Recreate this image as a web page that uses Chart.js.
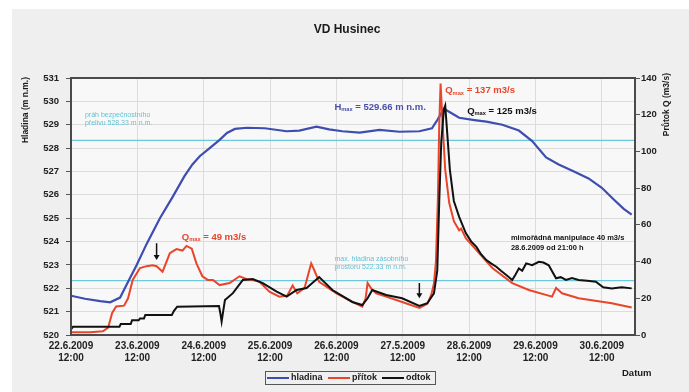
<!DOCTYPE html>
<html>
<head>
<meta charset="utf-8">
<script src="https://cdn.jsdelivr.net/npm/chart.js@4.4.0/dist/chart.umd.min.js"></script>
<style>
  html, body { margin: 0; padding: 0; background: #fff; }
  #wrap { width: 689px; height: 392px; }
</style>
</head>
<body>
<div id="wrap"><canvas id="ChartForHusinec" width="689" height="392"></canvas></div>
<script>
// x axis = days since 22.6.2009 12:00
var tickLabels = [
    ['22.6.2009', '12:00'], ['23.6.2009', '12:00'], ['24.6.2009', '12:00'],
    ['25.6.2009', '12:00'], ['26.6.2009', '12:00'], ['27.5.2009', '12:00'],
    ['28.6.2009', '12:00'], ['29.6.2009', '12:00'], ['30.6.2009', '12:00']
];

// hladina (m n.m.)
var hladinaTime = [0, 0.21, 0.44, 0.59, 0.74, 0.87, 0.99, 1.14, 1.34, 1.53, 1.59, 1.71, 1.83, 1.94, 2.09, 2.24, 2.35, 2.47, 2.65, 2.92,
    3.25, 3.44, 3.70, 3.89, 4.09, 4.35, 4.65, 4.95, 5.25, 5.44, 5.52, 5.62, 5.73, 5.85, 6.08, 6.26, 6.50, 6.75, 6.95, 7.16,
    7.35, 7.58, 7.80, 8.00, 8.18, 8.33, 8.45];
var hladinaValue = [521.68, 521.55, 521.45, 521.4, 521.6, 522.33, 523.0, 523.9, 525.0, 525.9, 526.2, 526.8, 527.3, 527.65, 528.0, 528.35, 528.65, 528.82, 528.87, 528.85,
    528.72, 528.75, 528.92, 528.8, 528.72, 528.66, 528.78, 528.7, 528.72, 528.85, 529.2, 529.68, 529.5, 529.3, 529.2, 529.13, 529.0, 528.75, 528.3, 527.6,
    527.3, 527.0, 526.7, 526.3, 525.8, 525.4, 525.15];

// pritok (m3/s)
var pritokTime = [0, 0.29, 0.48, 0.56, 0.62, 0.68, 0.80, 0.86, 0.93, 1.04, 1.14, 1.23, 1.29, 1.38, 1.44, 1.49, 1.59, 1.68, 1.74, 1.82,
    1.89, 1.98, 2.06, 2.14, 2.24, 2.39, 2.54, 2.65, 2.74, 2.84, 2.99, 3.14, 3.26, 3.34, 3.41, 3.52, 3.59, 3.62, 3.67, 3.74,
    4.00, 4.24, 4.39, 4.44, 4.47, 4.53, 4.60, 4.75, 4.99, 5.25, 5.37, 5.43, 5.47, 5.50, 5.53, 5.55, 5.57, 5.60, 5.64, 5.70,
    5.77, 5.85, 5.88, 5.95, 6.15, 6.35, 6.65, 6.90, 7.25, 7.31, 7.40, 7.65, 8.15, 8.45];
var pritokValue = [1.5, 1.5, 2, 4, 12, 15.5, 16, 20, 30, 36.5, 37.5, 38, 37.5, 34.5, 40, 44.6, 46.8, 46, 48.5, 47,
    39, 32, 30, 30, 27.2, 28.3, 32, 30.4, 30, 29, 23.6, 20.9, 21.5, 27, 22.7, 25.6, 35, 39, 35, 29,
    22.7, 18, 15.4, 20, 28.3, 25, 22.7, 20.9, 18, 14.7, 17, 22, 28, 40, 75, 115, 137, 115, 90, 72,
    62, 57, 58, 52.8, 44.6, 36.5, 28.3, 24.5, 20.9, 25.6, 22.7, 20, 17.3, 15];

// odtok (m3/s)
var odtokTime = [0, 0.03, 0.73, 0.75, 0.90, 0.92, 1.02, 1.04, 1.10, 1.12, 1.52, 1.55, 1.60, 2.23, 2.25, 2.27, 2.29, 2.32, 2.44, 2.59,
    2.74, 2.89, 3.10, 3.25, 3.40, 3.55, 3.74, 3.94, 4.24, 4.39, 4.47, 4.54, 4.75, 4.99, 5.25, 5.37, 5.47, 5.52, 5.55, 5.58,
    5.62, 5.64, 5.67, 5.71, 5.77, 5.85, 5.95, 6.03, 6.11, 6.18, 6.26, 6.33, 6.41, 6.48, 6.56, 6.65, 6.70, 6.75, 6.80, 6.86,
    6.95, 7.05, 7.12, 7.20, 7.31, 7.38, 7.46, 7.55, 7.65, 7.78, 7.91, 8.02, 8.15, 8.30, 8.45];
var odtokValue = [3, 4.5, 4.5, 6, 6, 8, 8, 9, 9, 10.9, 10.9, 13, 15.4, 15.8, 12, 7.3, 12, 19, 22.8, 30,
    30.5, 28.3, 23.6, 20.9, 24.5, 25.6, 31.6, 24.5, 18, 16.3, 20, 24.5, 21.8, 20, 15.8, 17.3, 22.7, 35, 73, 105,
    123, 125, 110, 90, 73, 64.4, 55.5, 51, 48, 44, 40.8, 39, 37.2, 35, 32.7, 30, 33, 36.3, 35, 39,
    38, 39.9, 39.5, 38, 30.9, 31.5, 30, 31, 30, 29.5, 29, 26, 25.4, 26, 25.4];

// prah bezpecnostniho prelivu, max. hladina zasobniho prostoru
var thresholdValues = [528.33, 522.33];

function zip(t, v) {
    return t.map(function (x, i) { return { x: x, y: v[i] }; });
}

var font = 'Liberation Sans, Arial, sans-serif';

function txt(ctx, s, x, y, size, color, bold, align) {
    ctx.font = (bold ? 'bold ' : '') + size + 'px ' + font;
    ctx.fillStyle = color;
    ctx.textAlign = align || 'left';
    ctx.textBaseline = 'middle';
    ctx.fillText(s, x, y);
}

// "Q" + subscript "max" + rest
function maxLabel(ctx, letter, rest, x, y, size, color) {
    ctx.font = 'bold ' + size + 'px ' + font;
    ctx.fillStyle = color;
    ctx.textAlign = 'left';
    ctx.textBaseline = 'middle';
    ctx.fillText(letter, x, y);
    var w = ctx.measureText(letter).width;
    ctx.font = 'bold ' + (size * 0.6) + 'px ' + font;
    ctx.fillText('max', x + w, y + 2.5);
    var w2 = ctx.measureText('max').width;
    ctx.font = 'bold ' + size + 'px ' + font;
    ctx.fillText(rest, x + w + w2, y);
}

function arrow(ctx, x, y1, y2) {
    ctx.strokeStyle = '#111';
    ctx.fillStyle = '#111';
    ctx.lineWidth = 1.5;
    ctx.beginPath();
    ctx.moveTo(x, y1);
    ctx.lineTo(x, y2 - 4);
    ctx.stroke();
    ctx.beginPath();
    ctx.moveTo(x - 3, y2 - 5);
    ctx.lineTo(x + 3, y2 - 5);
    ctx.lineTo(x, y2);
    ctx.closePath();
    ctx.fill();
}

var decorPlugin = {
    id: 'decor',
    beforeDraw: function (chart) {
        var ctx = chart.ctx, a = chart.chartArea;
        ctx.save();
        ctx.fillStyle = '#ffffff';
        ctx.fillRect(0, 0, chart.width, chart.height);
        ctx.fillStyle = '#efefef';
        ctx.fillRect(12, 9, chart.width - 12, chart.height - 9);
        ctx.fillStyle = '#f8f8f8';
        ctx.fillRect(a.left, a.top, a.right - a.left, a.bottom - a.top);
        ctx.restore();
    },
    afterDraw: function (chart) {
        var ctx = chart.ctx, a = chart.chartArea;
        var sx = chart.scales.x, sy = chart.scales.y, sq = chart.scales.q;
        ctx.save();

        // frame
        ctx.strokeStyle = '#4a4a4a';
        ctx.lineWidth = 2;
        ctx.strokeRect(a.left, a.top, a.right - a.left, a.bottom - a.top);

        // title
        txt(ctx, 'VD Husinec', 347, 30, 12, '#1a1a1a', true, 'center');

        // axis titles
        ctx.save();
        ctx.translate(26, 77);
        ctx.rotate(-Math.PI / 2);
        txt(ctx, 'Hladina (m n.m.)', 0, 0, 8.5, '#1a1a1a', true, 'right');
        ctx.restore();
        ctx.save();
        ctx.translate(667, 73);
        ctx.rotate(-Math.PI / 2);
        txt(ctx, 'Průtok Q (m3/s)', 0, 0, 8.5, '#1a1a1a', true, 'right');
        ctx.restore();

        txt(ctx, 'Datum', 622, 373, 9.5, '#1a1a1a', true, 'left');

        // legend
        ctx.strokeStyle = '#555';
        ctx.lineWidth = 1;
        ctx.strokeRect(265.5, 371.5, 170, 13);
        var items = [['hladina', '#3d4eb0', 267], ['přítok', '#e8452a', 328], ['odtok', '#111111', 382]];
        items.forEach(function (it) {
            ctx.strokeStyle = it[1];
            ctx.lineWidth = 2;
            ctx.beginPath();
            ctx.moveTo(it[2], 378);
            ctx.lineTo(it[2] + 22, 378);
            ctx.stroke();
            txt(ctx, it[0], it[2] + 24, 378, 9, '#1a1a1a', true, 'left');
        });

        // threshold texts
        var cy = '#5ec3d6';
        txt(ctx, 'práh bezpečnostního', sx.getPixelForValue(0.21), sy.getPixelForValue(529.42), 7, cy, false);
        txt(ctx, 'přelivu 528.33 m n.m.', sx.getPixelForValue(0.21), sy.getPixelForValue(529.08), 7, cy, false);
        txt(ctx, 'max. hladina zásobního', sx.getPixelForValue(3.97), sy.getPixelForValue(523.25), 7, cy, false);
        txt(ctx, 'prostoru 522.33 m n.m.', sx.getPixelForValue(3.97), sy.getPixelForValue(522.9), 7, cy, false);

        // max labels
        maxLabel(ctx, 'H', ' = 529.66 m n.m.', sx.getPixelForValue(3.97), sy.getPixelForValue(529.76), 9.5, '#4b4fa8');
        maxLabel(ctx, 'Q', ' = 137 m3/s', sx.getPixelForValue(5.64), sq.getPixelForValue(133), 9.5, '#e8452a');
        maxLabel(ctx, 'Q', ' = 125 m3/s', sx.getPixelForValue(5.97), sq.getPixelForValue(122), 9.5, '#111');
        maxLabel(ctx, 'Q', ' = 49 m3/s', sx.getPixelForValue(1.67), sq.getPixelForValue(53.4), 9.5, '#e8452a');

        txt(ctx, 'mimořádná manipulace 40 m3/s', sx.getPixelForValue(6.63), sq.getPixelForValue(52.8), 7.5, '#111', true);
        txt(ctx, '28.6.2009 od 21:00 h', sx.getPixelForValue(6.63), sq.getPixelForValue(47.4), 7.5, '#111', true);

        arrow(ctx, sx.getPixelForValue(1.29), sq.getPixelForValue(50), sq.getPixelForValue(40.8));
        arrow(ctx, sx.getPixelForValue(5.25), sq.getPixelForValue(28.3), sq.getPixelForValue(20));

        ctx.restore();
    }
};

var tickFont = { family: font, size: 9.5, weight: 'bold' };
var xTickFont = { family: font, size: 10, weight: 'bold' };

var ctx = document.getElementById('ChartForHusinec').getContext('2d');
var ChartForHusinec = new Chart(ctx, {
    type: 'line',
    data: {
        datasets: [
            {
                label: 'odtok', data: zip(odtokTime, odtokValue), yAxisID: 'q',
                borderColor: '#111111', borderWidth: 2, order: 1
            },
            {
                label: 'přítok', data: zip(pritokTime, pritokValue), yAxisID: 'q',
                borderColor: '#e8452a', borderWidth: 2, order: 2
            },
            {
                label: 'hladina', data: zip(hladinaTime, hladinaValue), yAxisID: 'y',
                borderColor: '#3d4eb0', borderWidth: 2.2, order: 3
            },
            {
                label: 'prah', data: [{ x: 0, y: thresholdValues[0] }, { x: 8.5, y: thresholdValues[0] }], yAxisID: 'y',
                borderColor: '#6cc8da', borderWidth: 1.2, order: 4
            },
            {
                label: 'zasobni', data: [{ x: 0, y: thresholdValues[1] }, { x: 8.5, y: thresholdValues[1] }], yAxisID: 'y',
                borderColor: '#6cc8da', borderWidth: 1.2, order: 4
            }
        ]
    },
    options: {
        responsive: false,
        animation: false,
        layout: { padding: { top: 78, left: 0, right: 0, bottom: 0 } },
        elements: { point: { radius: 0 }, line: { tension: 0, fill: false } },
        plugins: {
            legend: { display: false },
            title: { display: false },
            tooltip: { enabled: false }
        },
        scales: {
            x: {
                type: 'linear',
                min: 0,
                max: 8.5,
                afterBuildTicks: function (s) {
                    s.ticks = tickLabels.map(function (l, i) { return { value: i }; });
                },
                afterFit: function (s) { s.height = 57; },
                ticks: {
                    callback: function (v) { return tickLabels[Math.round(v)]; },
                    font: xTickFont, color: '#222', maxRotation: 0, autoSkip: false, padding: 1
                },
                grid: { color: '#dcdcdc', tickLength: 4 },
                border: { display: false }
            },
            y: {
                position: 'left',
                min: 520,
                max: 531,
                afterFit: function (s) { s.width = 71; },
                ticks: { stepSize: 1, font: tickFont, color: '#222', padding: 7 },
                grid: { color: '#dcdcdc', tickLength: 5, tickColor: '#555' },
                border: { display: false }
            },
            q: {
                position: 'right',
                min: 0,
                max: 140,
                afterFit: function (s) { s.width = 54; },
                ticks: { stepSize: 20, font: tickFont, color: '#222', padding: 1 },
                grid: { drawOnChartArea: false, tickLength: 5, tickColor: '#555' },
                border: { display: false }
            }
        }
    },
    plugins: [decorPlugin]
});
</script>
</body>
</html>
